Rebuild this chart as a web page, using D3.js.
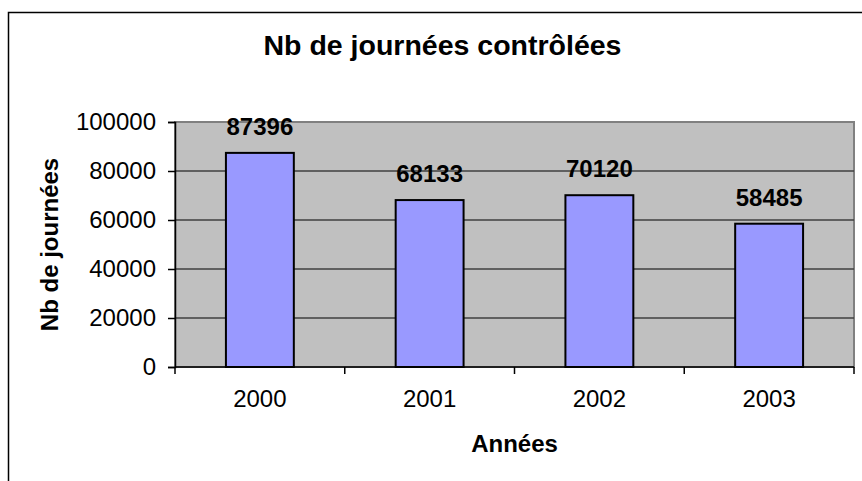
<!DOCTYPE html>
<html>
<head>
<meta charset="utf-8">
<script src="https://cdn.jsdelivr.net/npm/d3@7"></script>
<style>
  body { margin: 0; background: #fff; }
  svg { display: block; font-family: Arial, "Liberation Sans", sans-serif; }
</style>
</head>
<body>
<div id="chart"></div>
<script>
const years = ['2000', '2001', '2002', '2003'];
const journees = [87396, 68133, 70120, 58485];
const yTicks = [0, 20000, 40000, 60000, 80000, 100000];

const svgWidth = 862;
const svgHeight = 481;
const plot = { left: 175, right: 854, top: 122, bottom: 367 };

const svg = d3.select('#chart')
    .append('svg')
    .attr('width', svgWidth)
    .attr('height', svgHeight);

// chart border (runs off the right and bottom edge)
svg.append('rect')
    .attr('x', 8.5)
    .attr('y', 12.5)
    .attr('width', 900)
    .attr('height', 500)
    .attr('fill', '#fff')
    .attr('stroke', '#000')
    .attr('stroke-width', 1.5);

const x = d3.scaleBand()
    .domain(years)
    .range([plot.left, plot.right]);

const y = d3.scaleLinear()
    .domain([0, 100000])
    .range([plot.bottom, plot.top]);

// plot area
svg.append('rect')
    .attr('x', plot.left)
    .attr('y', plot.top)
    .attr('width', plot.right - plot.left)
    .attr('height', plot.bottom - plot.top)
    .attr('fill', '#c0c0c0')
    .attr('stroke', '#808080')
    .attr('stroke-width', 2);

// gridlines
svg.append('g')
    .selectAll('line')
    .data(yTicks.filter(d => d > 0 && d < 100000))
    .enter()
    .append('line')
    .attr('x1', plot.left)
    .attr('x2', plot.right)
    .attr('y1', d => y(d))
    .attr('y2', d => y(d))
    .attr('stroke', '#404040')
    .attr('stroke-width', 1.5);

// bars
const barWidth = x.bandwidth() / 2.5;
svg.append('g')
    .selectAll('rect')
    .data(journees)
    .enter()
    .append('rect')
    .attr('x', (d, i) => x(years[i]) + (x.bandwidth() - barWidth) / 2)
    .attr('y', d => y(d))
    .attr('width', barWidth)
    .attr('height', d => y(0) - y(d))
    .attr('fill', '#9999ff')
    .attr('stroke', '#000')
    .attr('stroke-width', 2);

// value labels
svg.append('g')
    .selectAll('text')
    .data(journees)
    .enter()
    .append('text')
    .text(d => d)
    .attr('x', (d, i) => x(years[i]) + x.bandwidth() / 2)
    .attr('y', d => y(d) - 18)
    .attr('text-anchor', 'middle')
    .attr('font-size', 24)
    .attr('font-weight', 'bold')
    .attr('fill', '#000');

// y axis
const yAxis = svg.append('g')
    .attr('transform', `translate(${plot.left},0)`)
    .call(d3.axisLeft(y).tickValues(yTicks).tickSize(7).tickPadding(12).tickFormat(d3.format('d')));
yAxis.select('.domain').attr('stroke', '#000').attr('stroke-width', 1.5);
yAxis.selectAll('.tick line').attr('stroke', '#000').attr('stroke-width', 1.5);
yAxis.selectAll('.tick text')
    .attr('font-size', 24)
    .attr('font-family', 'Arial, "Liberation Sans", sans-serif')
    .attr('fill', '#000');

// x axis, ticks between categories
const xAxis = svg.append('g')
    .attr('transform', `translate(0,${plot.bottom})`);
xAxis.append('line')
    .attr('x1', plot.left)
    .attr('x2', plot.right)
    .attr('stroke', '#000')
    .attr('stroke-width', 1.5);
xAxis.selectAll('.sep')
    .data(years.concat(['end']))
    .enter()
    .append('line')
    .attr('x1', (d, i) => i < years.length ? x(d) : plot.right)
    .attr('x2', (d, i) => i < years.length ? x(d) : plot.right)
    .attr('y1', 0)
    .attr('y2', 7)
    .attr('stroke', '#000')
    .attr('stroke-width', 1.5);
xAxis.selectAll('text')
    .data(years)
    .enter()
    .append('text')
    .text(d => d)
    .attr('x', d => x(d) + x.bandwidth() / 2)
    .attr('y', 40)
    .attr('text-anchor', 'middle')
    .attr('font-size', 24)
    .attr('fill', '#000');

// titles
svg.append('text')
    .text('Nb de journées contrôlées')
    .attr('x', (plot.left + plot.right) / 2 - 72)
    .attr('y', 55)
    .attr('text-anchor', 'middle')
    .attr('font-size', 28.5)
    .attr('font-weight', 'bold');

svg.append('text')
    .text('Années')
    .attr('x', (plot.left + plot.right) / 2)
    .attr('y', 452)
    .attr('text-anchor', 'middle')
    .attr('font-size', 24)
    .attr('font-weight', 'bold');

svg.append('text')
    .text('Nb de journées')
    .attr('transform', `translate(58,${(plot.top + plot.bottom) / 2}) rotate(-90)`)
    .attr('text-anchor', 'middle')
    .attr('font-size', 24)
    .attr('font-weight', 'bold');
</script>
</body>
</html>
